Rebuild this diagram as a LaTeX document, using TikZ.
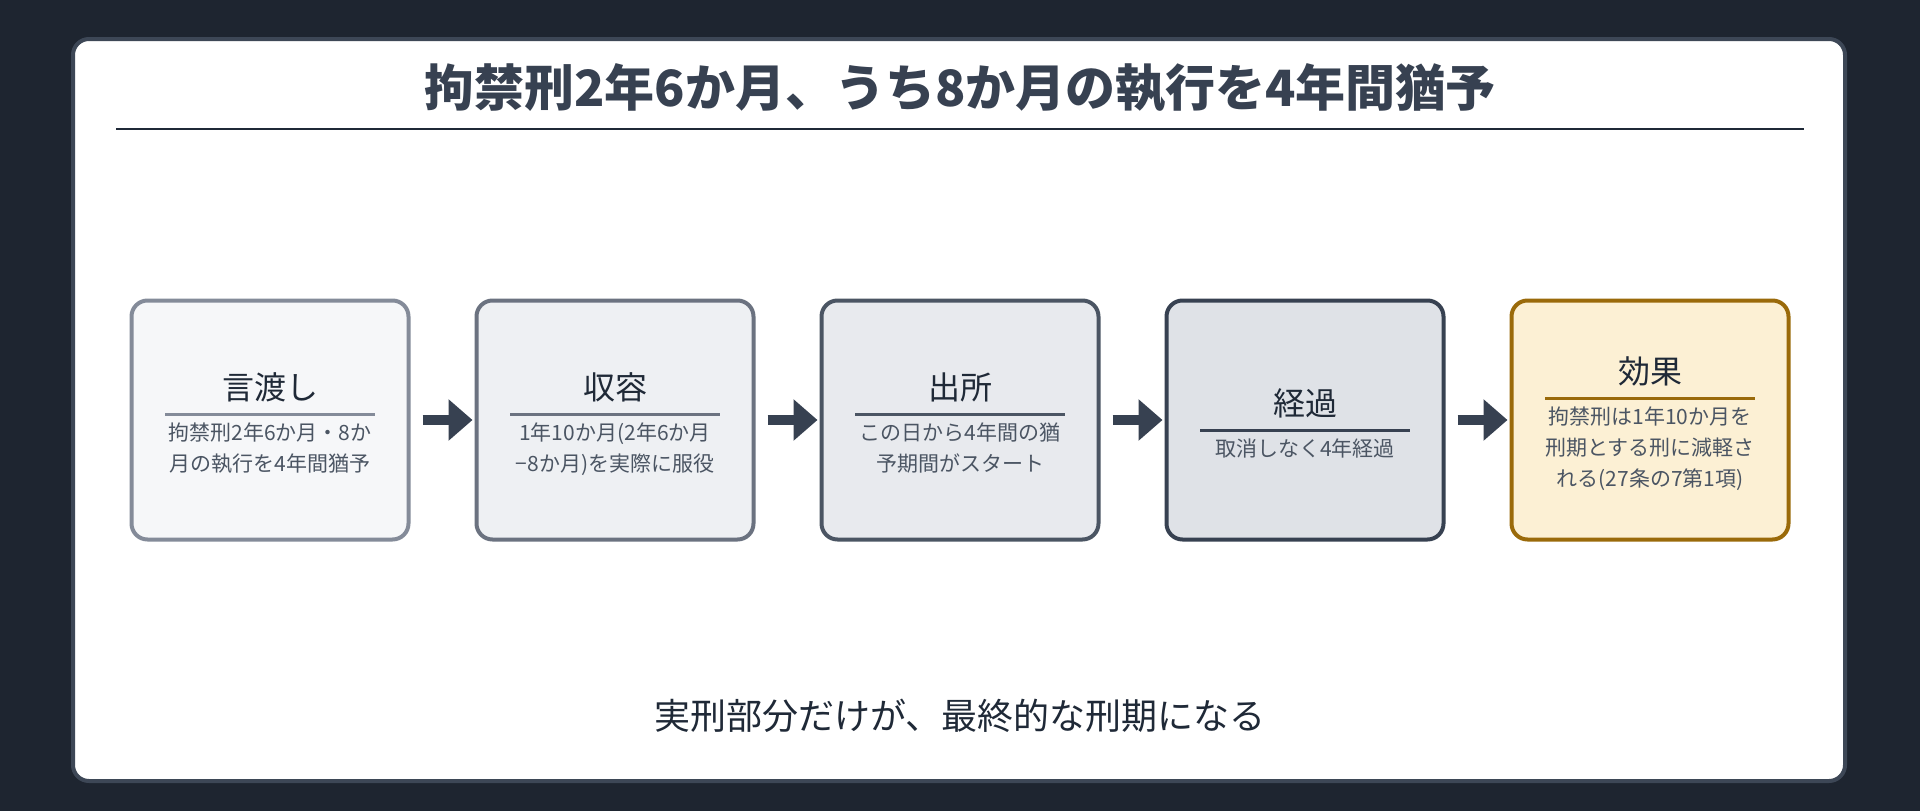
\documentclass[tikz,border=0pt]{standalone}
\usepackage{fontspec}
\setmainfont{Noto Sans CJK JP}
\usetikzlibrary{positioning, arrows.meta}
\definecolor{bgdark}{HTML}{1E2530}
\definecolor{cardline}{HTML}{3D4756}
\definecolor{ink}{HTML}{374151}
\definecolor{txt}{HTML}{1F2937}
\definecolor{subtxt}{HTML}{4B5563}
\definecolor{fA}{HTML}{F6F7F9}\definecolor{dA}{HTML}{848B99}
\definecolor{fB}{HTML}{EEF0F3}\definecolor{dB}{HTML}{6B7280}
\definecolor{fC}{HTML}{E8EAEE}\definecolor{dC}{HTML}{4B5563}
\definecolor{fD}{HTML}{DFE2E7}\definecolor{dD}{HTML}{374151}
\definecolor{fE}{HTML}{FCF0D4}\definecolor{dE}{HTML}{9A6A0A}
\tikzset{
  stage/.style={draw, line width=4pt, rounded corners=16pt, minimum width=277pt, minimum height=239pt},
  stagetitle/.style={font=\fontsize{32}{38}\selectfont, text=txt},
  stagebody/.style={font=\fontsize{21}{31}\selectfont, text=subtxt, align=center, inner sep=0pt},
  stagerule/.style={line width=3pt},
  flow/.style={line width=10pt, draw=ink, -{Triangle[length=24pt,width=40pt]}, shorten >=2pt}
}
% box: name, x, colour letter, rule offset, title, body
\newcommand{\stagebox}[6]{%
  \node (#1) [stage, fill=f#3, draw=d#3] at (#2,420) {};
  \coordinate (#1r) at ([yshift=#4pt]#1.center);
  \draw [stagerule, draw=d#3] ([xshift=-105pt]#1r) -- ([xshift=105pt]#1r);
  \node [stagetitle, above=8pt of #1r] {#5};
  \node [stagebody, below=9pt of #1r] {#6};
}
\begin{document}
\begin{tikzpicture}[x=1pt, y=-1pt]
  \useasboundingbox (0,0) rectangle (1920,811);
  \fill [bgdark] (0,0) rectangle (1920,811);
  \draw [fill=white, draw=cardline, line width=4pt, rounded corners=16pt] (73,39) rectangle (1845,781);

  \node (title) [font=\bfseries\fontsize{50}{56}\selectfont, text=ink] at (960,88) {拘禁刑2年6か月、うち8か月の執行を4年間猶予};
  \draw [line width=2pt, txt] (116,129) -- (1804,129);

  \stagebox{s1}{270}{A}{6}{言渡し}{拘禁刑2年6か月・8か\\月の執行を4年間猶予}
  \stagebox{s2}{615}{B}{6}{収容}{1年10か月(2年6か月\\−8か月)を実際に服役}
  \stagebox{s3}{960}{C}{6}{出所}{この日から4年間の猶\\予期間がスタート}
  \stagebox{s4}{1305}{D}{-10}{経過}{取消しなく4年経過}
  \stagebox{s5}{1650}{E}{22}{効果}{拘禁刑は1年10か月を\\刑期とする刑に減軽さ\\れる(27条の7第1項)}

  \foreach \a/\b in {s1/s2, s2/s3, s3/s4, s4/s5}
    \draw [flow] ([xshift=12pt]\a.east) -- (\b.west);

  \node (note) [font=\fontsize{36}{42}\selectfont, text=txt] at (960,716) {実刑部分だけが、最終的な刑期になる};
\end{tikzpicture}
\end{document}
